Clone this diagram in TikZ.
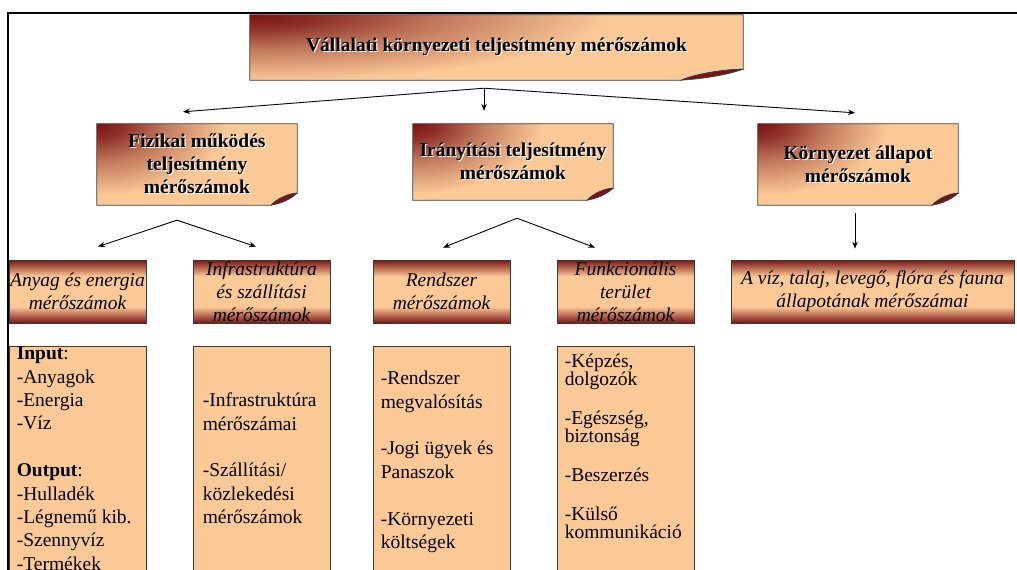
\documentclass[tikz,border=0pt]{standalone}
\usepackage{fontspec}
\setmainfont{Liberation Serif}
\usetikzlibrary{arrows.meta,backgrounds,calc}

\definecolor{peach}{HTML}{FBC996}
\definecolor{boxred}{HTML}{7A1414}
\definecolor{edge}{HTML}{3A3A3A}

% glow from the upper left corner of the title panels
\pgfdeclareradialshading{cornerglow}{\pgfpoint{0bp}{0bp}}{%
  color(0bp)=(boxred); color(5bp)=(boxred!85!peach); color(13bp)=(boxred!45!peach);
  color(25bp)=(peach); color(50bp)=(peach)}
% dark bands at top and bottom of the category boxes
\pgfdeclareverticalshading{edgeband}{100bp}{%
  color(0bp)=(boxred); color(25bp)=(boxred); color(38bp)=(peach);
  color(62bp)=(peach); color(75bp)=(boxred); color(100bp)=(boxred)}

% light offset copy behind heading text
\newcommand\emb[1]{\leavevmode\rlap{\kern1.1pt\raisebox{-1.1pt}{\color{white}#1}}#1}

% outline of a panel whose lower right corner is curled up
\newcommand\panelpath[3]{(#1.north west) -- (#1.north east) -- ($(#1.south east)+(0,-#3)$)
  .. controls ($(#1.south east)+(-0.3*#2,-0.98*#3)$) and ($(#1.south east)+(-0.75*#2,-0.6*#3)$)
  .. ($(#1.south east)+(-#2,0)$) -- (#1.south west) -- cycle}

% #1 node, #2/#3 curl width/height, #4/#5 glow radii
\newcommand\foldpanel[5]{%
  \begin{scope}
    \clip \panelpath{#1}{#2}{#3};
    \fill[peach] (#1.north west) rectangle (#1.south east);
    \shade[shading=cornerglow] (#1.north west) ellipse [x radius=#4, y radius=#5];
  \end{scope}
  \fill[boxred, draw=edge, line width=0.6pt] ($(#1.south east)+(0,-#3)$)
    .. controls ($(#1.south east)+(-0.3*#2,-0.98*#3)$) and ($(#1.south east)+(-0.75*#2,-0.6*#3)$)
    .. ($(#1.south east)+(-#2,0)$)
    .. controls ($(#1.south east)+(-0.6*#2,-0.15*#3)$) and ($(#1.south east)+(-0.25*#2,-0.5*#3)$)
    .. cycle;
  \draw[edge, line width=0.8pt] \panelpath{#1}{#2}{#3};
}

\tikzset{
  headtext/.style={font=\fontsize{19.5}{23}\selectfont\bfseries, align=center, inner sep=0pt},
  catbox/.style={font=\fontsize{19.5}{23}\selectfont\itshape, align=center, inner sep=0pt,
    minimum height=63, shade, shading=edgeband, draw=edge, line width=0.8pt},
  listbox/.style={fill=peach, draw=edge, line width=0.8pt, minimum width=137,
    minimum height=240, anchor=north, inner sep=0pt},
  listtext/.style={font=\fontsize{19.5}{23.4}\selectfont, align=left, inner sep=0pt,
    anchor=north west},
  link/.style={line width=0.9pt, -{Stealth[length=7pt,width=5.5pt]}},
}

\begin{document}
\begin{tikzpicture}[x=1pt,y=-1pt]
\useasboundingbox (0,0) rectangle (1017,570);
\clip (0,0) rectangle (1017,570);

% headings
\node[headtext, minimum width=493, minimum height=65] (top) at (496.5,47.5)
  {\emb{Vállalati környezeti teljesítmény mérőszámok}};
\node[headtext, minimum width=200, minimum height=81] (fiz) at (197,164.5)
  {\emb{Fizikai működés}\\\emb{teljesítmény}\\\emb{mérőszámok}};
\node[headtext, minimum width=200, minimum height=76] (ira) at (513,162)
  {\emb{Irányítási teljesítmény}\\\emb{mérőszámok}};
\node[headtext, minimum width=200, minimum height=81] (kor) at (858,164.5)
  {\emb{Környezet állapot}\\\emb{mérőszámok}};

\begin{scope}[on background layer]
  \foldpanel{top}{62}{11}{360}{66}
  \foldpanel{fiz}{26}{12}{130}{72}
  \foldpanel{ira}{26}{12}{130}{70}
  \foldpanel{kor}{26}{12}{130}{72}
\end{scope}

% categories
\node[catbox, minimum width=137] (any) at (77.5,291.5) {Anyag és energia\\mérőszámok};
\node[catbox, minimum width=137] (inf) at (261.5,291.5) {Infrastruktúra\\és szállítási\\mérőszámok};
\node[catbox, minimum width=137] (ren) at (441.5,291.5) {Rendszer\\mérőszámok};
\node[catbox, minimum width=137] (fun) at (625.5,291.5) {Funkcionális\\terület\\mérőszámok};
\node[catbox, minimum width=283] (viz) at (872.5,291.5) {A víz, talaj, levegő, flóra és fauna\\állapotának mérőszámai};

% lists
\node[listbox] (l1) at (77.5,346) {};
\node[listbox] (l2) at (261.5,346) {};
\node[listbox] (l3) at (441.5,346) {};
\node[listbox] (l4) at (625.5,346) {};

\node[listtext] (t1) at ($(l1.north west)+(8,-4)$)
  {\rule{0pt}{17.5pt}\textbf{Input}:\\-Anyagok\\-Energia\\-Víz\\[23.4pt]\textbf{Output}:\\-Hulladék\\-Légnemű kib.\\-Szennyvíz\\-Termékek};
\node[listtext] (t2) at ($(l2.north west)+(10,43)$)
  {\rule{0pt}{17.5pt}-Infrastruktúra\\mérőszámai\\[23.4pt]-Szállítási/\\közlekedési\\mérőszámok};
\node[listtext] (t3) at ($(l3.north west)+(8,21)$)
  {\rule{0pt}{17.5pt}-Rendszer\\megvalósítás\\[23.4pt]-Jogi ügyek és\\Panaszok\\[23.4pt]-Környezeti\\költségek};
\node[listtext, font=\fontsize{19.5}{18}\selectfont] (t4) at ($(l4.north west)+(8,4)$)
  {\rule{0pt}{17.5pt}-Képzés,\\dolgozók\\[21pt]-Egészség,\\biztonság\\[21pt]-Beszerzés\\[21pt]-Külső\\kommunikáció};

% connectors
\coordinate (hubA) at ($(top.south)+(-12.5,8)$);
\coordinate (hubB) at ($(fiz.south)+(-20,15)$);
\coordinate (hubC) at ($(ira.south)+(4,18)$);
\coordinate (hubD) at ($(kor.south)+(-3,8)$);

\draw[link] (hubA) -- ($(fiz.north)+(-14,-12)$);
\draw[link] (hubA) -- ($(ira.north)+(-29,-13)$);
\draw[link] (hubA) -- ($(kor.north)+(-3,-11)$);

\draw[link] (hubB) -- ($(any.north)+(20.5,-13)$);
\draw[link] (hubB) -- ($(inf.north)+(-5.5,-13)$);
\draw[link] (hubC) -- ($(ren.north)+(1.5,-12)$);
\draw[link] (hubC) -- ($(fun.north)+(-30.5,-12)$);
\draw[link] (hubD) -- ($(viz.north)+(-17.5,-11)$);

% page frame
\draw[line width=2.8pt, line join=miter] (8,575) -- (8,13) -- (1020,13);
\end{tikzpicture}
\end{document}
